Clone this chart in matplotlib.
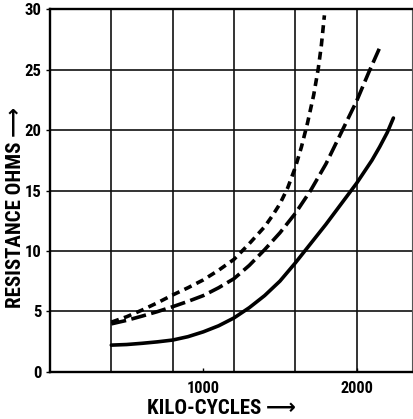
import matplotlib
matplotlib.use("Agg")
import matplotlib.pyplot as plt
from matplotlib import font_manager

# ---- data ----
solid_kc = [400, 500, 600, 700, 800, 900, 1000, 1100, 1200, 1300, 1400, 1500, 1600,
            1700, 1800, 1900, 2000, 2100, 2150, 2200, 2240]
solid_ohm = [2.2, 2.25, 2.35, 2.47, 2.62, 2.9, 3.3, 3.8, 4.45, 5.3, 6.3, 7.5, 9.0,
             10.6, 12.2, 13.9, 15.6, 17.5, 18.6, 19.8, 21.0]

long_kc = [400, 500, 600, 700, 800, 900, 1000, 1100, 1200, 1300, 1400, 1500, 1600,
           1700, 1800, 1900, 2000, 2080, 2150]
long_ohm = [3.96, 4.25, 4.6, 4.97, 5.38, 5.82, 6.3, 6.95, 7.7, 8.8, 10.1, 11.5, 13.1,
            15.0, 17.2, 19.8, 22.4, 24.8, 26.8]

short_kc = [400, 500, 600, 700, 800, 900, 1000, 1100, 1200, 1300, 1400, 1450, 1500,
            1550, 1600, 1640, 1680, 1720, 1750, 1770, 1790]
short_ohm = [4.1, 4.55, 5.1, 5.7, 6.35, 6.95, 7.6, 8.4, 9.3, 10.6, 12.0, 12.9, 13.9,
             15.2, 16.9, 18.6, 20.6, 22.9, 25.1, 27.0, 29.5]

x_tick_vals = [1000, 2000]
x_tick_labels = ["1000", "2000"]
y_tick_vals = [0, 5, 10, 15, 20, 25, 30]
y_tick_labels = ["0", "5", "10", "15", "20", "25", "30"]
x_grid_vals = [400, 800, 1200, 1600, 2000]

x_label = "KILO-CYCLES \u27f6"
y_label = "RESISTANCE OHMS \u27f6"

# ---- fonts: prefer a narrow family ----
flist = font_manager.fontManager.ttflist
names = {f.name for f in flist}
stretch = "normal"
if "Liberation Sans Narrow" in names:
    primary = "Liberation Sans Narrow"
elif "Roboto Condensed" in names:
    primary = "Roboto Condensed"
elif any(f.name == "DejaVu Sans" and str(f.stretch) in ("condensed", "semi-condensed") for f in flist):
    primary = "DejaVu Sans"
    stretch = "condensed"
elif "Roboto" in names:
    primary = "Roboto"
else:
    primary = "DejaVu Sans"
fam = [primary, "DejaVu Sans"]

W, H = 413, 419
fig = plt.figure(figsize=(W / 100, H / 100), dpi=100)
x0, x1 = 50, 412
y0, y1 = 371.7, 9.3
ax = fig.add_axes([x0 / W, 1 - y0 / H, (x1 - x0) / W, (y0 - y1) / H])

ax.set_xlim(0, (x1 - x0) / 0.1533)
ax.set_ylim(0, 30)

# grid
for gx in x_grid_vals:
    ax.axvline(gx, color="#111111", lw=1.2, zorder=1)
for gy in y_tick_vals[1:-1]:
    ax.axhline(gy, color="#111111", lw=1.2, zorder=1)

lw = 2.6
ax.plot(solid_kc, solid_ohm, color="black", lw=lw, solid_capstyle="round",
        solid_joinstyle="round", zorder=3)
ax.plot(long_kc, long_ohm, color="black", lw=lw, linestyle=(0, (4.2, 1.5)), zorder=3)
ax.plot(short_kc, short_ohm, color="black", lw=lw, linestyle=(0, (2.2, 1.5)), zorder=3)

for s in ["left", "bottom", "top"]:
    ax.spines[s].set_linewidth(1.7)
    ax.spines[s].set_color("black")
ax.spines["right"].set_linewidth(0.8)
ax.spines["right"].set_color("#555555")

tk = dict(family=fam, fontweight="bold", fontstretch=stretch)
ax.set_xticks(x_tick_vals)
xt = ax.set_xticklabels(x_tick_labels, fontsize=11, **tk)
ax.set_yticks(y_tick_vals)
yt = ax.set_yticklabels(y_tick_labels, fontsize=11, **tk)
ax.tick_params(axis="x", direction="in", length=3, width=1, pad=7, colors="black")
ax.tick_params(axis="y", direction="out", length=3, width=1, pad=3, colors="black")

xl = fig.text(221.5 / W, 1 - 418.0 / H, x_label, fontsize=12,
              ha="center", va="bottom", **tk)
yl = fig.text(16 / W, 1 - 207 / H, y_label, fontsize=12,
              ha="center", va="center", rotation=90, **tk)

# fit text sizes to the widths measured in the reference
r = fig.canvas.get_renderer()

def fit(t, target, vertical=False, cap=15):
    bb = t.get_window_extent(r)
    cur = bb.height if vertical else bb.width
    if cur > 0:
        t.set_fontsize(min(cap, t.get_fontsize() * target / cur))

fit(xl, 153)
fit(yl, 205, vertical=True)
for t in xt:
    if t.get_text() == "1000":
        fit(t, 33)
s_x = xt[0].get_fontsize()
for t in xt:
    t.set_fontsize(s_x)
for t in yt:
    if t.get_text() == "30":
        fit(t, 17)
s_y = [t for t in yt if t.get_text() == "30"][0].get_fontsize()
for t in yt:
    t.set_fontsize(s_y)

fig.savefig("out.png", dpi=100)
